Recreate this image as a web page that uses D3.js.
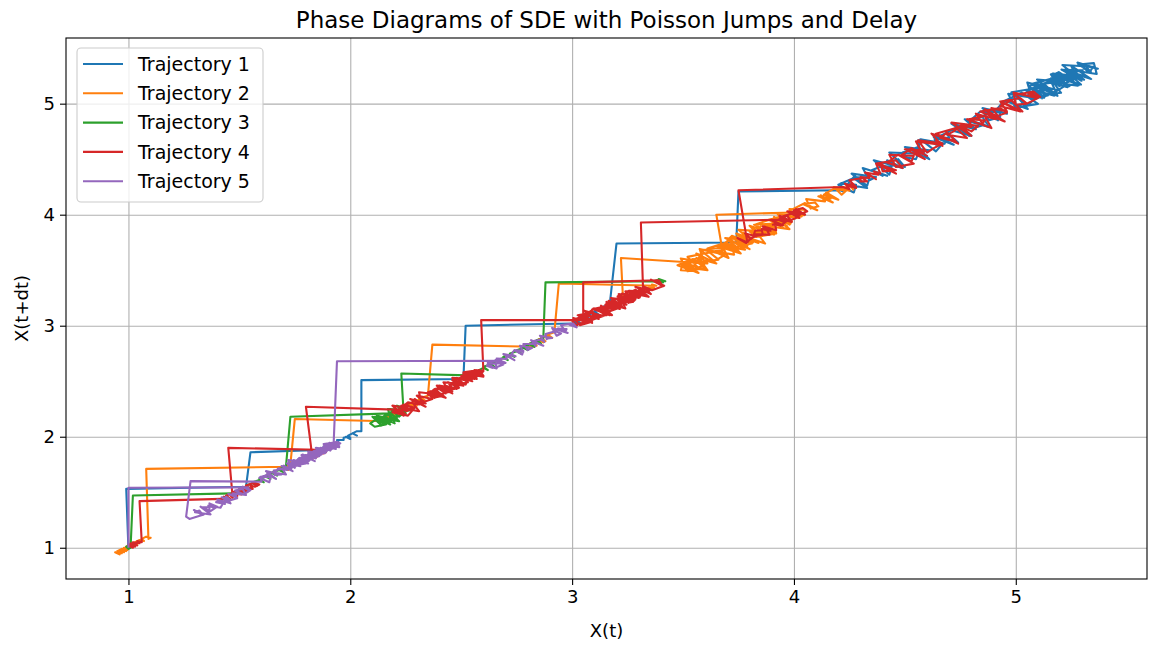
<!DOCTYPE html>
<html><head><meta charset="utf-8">
<script src="https://cdn.jsdelivr.net/npm/d3@7"></script>
<style>body{margin:0;background:#fff;} svg{display:block;} text{font-family:"DejaVu Sans", sans-serif;fill:#000;}</style>
</head><body><svg id="chart" width="1156" height="646"></svg>
<script>
// ---- data: X(t) time series (phase plot uses X(t) vs X(t+dt)) ----
const seriesNames = ["Trajectory 1", "Trajectory 2", "Trajectory 3", "Trajectory 4", "Trajectory 5"];
const seriesColors = ["#1f77b4", "#ff7f0e", "#2ca02c", "#d62728", "#9467bd"];

const traj1 = [1.00, 0.99, 1.53, 1.55,
  1.86, 1.88, 1.87, 1.87, 1.89, 1.88, 1.91, 1.91, 1.91, 1.91, 1.92, 1.94, 1.93, 1.94, 1.95, 1.94, 1.97, 1.97, 1.97, 1.99,
  2.00, 1.98, 2.00, 1.99, 2.01, 2.03, 2.01, 2.03, 2.05, 2.05, 2.05,
  2.51, 2.52,
  3.00, 3.02, 3.01, 3.04, 3.02, 3.05, 3.07, 3.05, 3.08, 3.06, 3.09, 3.11, 3.09, 3.12, 3.10, 3.13, 3.15, 3.13, 3.16, 3.14,
  3.17, 3.19, 3.17, 3.20,
  3.74, 3.75,
  4.21, 4.22, 4.21, 4.28, 4.27, 4.20, 4.27, 4.33, 4.24, 4.27, 4.34, 4.33, 4.26, 4.37, 4.34, 4.31, 4.42, 4.35, 4.40, 4.35,
  4.40, 4.44, 4.43, 4.36, 4.49, 4.42, 4.49, 4.42, 4.47, 4.50, 4.43, 4.56, 4.55, 4.50, 4.52, 4.49, 4.56, 4.61, 4.50, 4.61,
  4.58, 4.57, 4.56, 4.67, 4.64, 4.57, 4.68, 4.64, 4.63, 4.72, 4.63, 4.70, 4.69, 4.74, 4.65, 4.70, 4.75, 4.80, 4.71, 4.76,
  4.79, 4.71, 4.82, 4.77, 4.86, 4.81, 4.78, 4.85, 4.88, 4.79, 4.84, 4.93, 4.88, 4.85, 4.93, 4.92, 4.85, 4.96, 4.91, 4.94, 5.01,
  5.054, 4.952, 5.026, 5.100, 4.998, 4.966, 5.088, 5.050, 4.980, 5.102, 5.144, 5.074, 5.052, 5.190, 5.120, 5.056, 5.162,
  5.188, 5.070, 5.176, 5.234, 5.148, 5.190, 5.280, 5.162, 5.194, 5.284, 5.166, 5.272, 5.250, 5.340, 5.222, 5.296, 5.210,
  5.348, 5.332, 5.278, 5.370, 5.314, 5.340,
  5.282, 5.352, 5.365, 5.268, 5.296, 5.206, 5.308, 5.250, 5.224, 5.294, 5.172, 5.242, 5.158, 5.228, 5.170, 5.096, 5.166,
  5.204, 5.098, 5.072, 5.132, 5.090, 5.128, 5.054, 5.060,
  5.118, 5.048, 5.116, 5.174, 5.072, 5.130, 5.172, 5.096, 5.218, 5.196, 5.158, 5.264, 5.220, 5.182, 5.272, 5.234, 5.308,
  5.216, 5.306, 5.300];

const traj2 = [1.00, 0.98, 0.99, 0.97, 0.98, 0.96, 0.97, 0.95, 0.96, 0.94, 0.96, 0.95, 0.97, 0.99, 0.98, 1.00, 0.99, 1.01,
  1.03, 1.02, 1.04, 1.03, 1.05, 1.07, 1.06, 1.08, 1.10, 1.09, 1.08,
  1.71, 1.73, 1.72, 1.70, 1.72, 1.74, 1.73, 1.75,
  2.16, 2.14, 2.16, 2.18, 2.17, 2.19, 2.21, 2.19, 2.22, 2.20, 2.23, 2.25, 2.23, 2.26, 2.24, 2.27, 2.29, 2.27, 2.30, 2.28,
  2.31, 2.33, 2.31, 2.34, 2.32, 2.35, 2.37,
  2.83, 2.81, 2.84, 2.82, 2.85, 2.87, 2.85, 2.88, 2.86, 2.89, 2.91, 2.89, 2.92, 2.94,
  3.38, 3.36, 3.37, 3.34, 3.36, 3.33, 3.34, 3.31, 3.33, 3.30, 3.31, 3.28, 3.30, 3.27, 3.28, 3.25, 3.26, 3.23, 3.22,
  3.61, 3.56, 3.65, 3.56, 3.61, 3.50, 3.57, 3.61, 3.50, 3.53, 3.56, 3.49, 3.50,
  3.570, 3.475, 3.545, 3.600, 3.520, 3.490, 3.605, 3.570, 3.520, 3.620, 3.660, 3.595, 3.575, 3.690, 3.640, 3.580, 3.680,
  3.705, 3.610, 3.695, 3.750, 3.670, 3.710, 3.780, 3.685, 3.715, 3.800, 3.690, 3.790, 3.770, 3.840, 3.745, 3.815, 3.750,
  3.865, 3.850, 3.800, 3.900, 3.835, 3.860, 3.915, 3.850, 3.830, 3.915, 3.970, 3.895, 3.950, 3.885, 3.955, 3.950,
  3.98, 3.91, 3.98, 3.87, 3.90, 3.91, 3.82, 3.91, 3.92, 3.83, 3.80, 3.85, 3.82, 3.87, 3.74, 3.83, 3.76, 3.79, 3.72, 3.81,
  3.74, 3.71, 3.76, 3.65, 3.72, 3.73, 3.64, 3.67, 3.68, 3.65,
  4.00, 4.02, 3.97, 3.99, 3.94, 3.96, 3.92, 3.95, 3.93,
  3.985, 3.920, 3.975, 3.925, 4.010, 3.980, 4.035, 3.985, 3.980, 4.050, 4.045, 3.995, 4.050, 4.105, 4.040, 4.095, 4.110,
  4.075, 4.055, 4.140, 4.120, 4.175, 4.110, 4.165, 4.145, 4.200, 4.135, 4.180, 4.235, 4.215, 4.180, 4.250, 4.215, 4.240,
  4.250, 4.27, 4.22];

const traj3 = [1.00, 1.01, 1.00, 0.99, 1.01, 1.02,
  1.47, 1.49, 1.48, 1.50, 1.52, 1.50, 1.53, 1.55, 1.53, 1.56, 1.58, 1.56, 1.59, 1.61, 1.59, 1.62, 1.64, 1.62, 1.65, 1.67,
  1.65, 1.68, 1.70, 1.68, 1.71, 1.73,
  2.18, 2.21, 2.17, 2.14, 2.18, 2.11, 2.18, 2.16, 2.11, 2.09, 2.12, 2.16, 2.11, 2.15, 2.14, 2.10, 2.18, 2.13, 2.15, 2.18,
  2.20, 2.12, 2.19, 2.15, 2.18, 2.22, 2.14, 2.17, 2.21, 2.24, 2.20, 2.18, 2.17, 2.25, 2.24, 2.22, 2.18, 2.25, 2.21, 2.28,
  2.24, 2.23,
  2.57, 2.55, 2.57, 2.59, 2.58, 2.60, 2.62, 2.60, 2.63, 2.65, 2.63, 2.66, 2.68, 2.66, 2.69, 2.71, 2.69, 2.72, 2.74, 2.72,
  2.75, 2.77, 2.75, 2.78, 2.80, 2.78, 2.81, 2.83, 2.81, 2.84, 2.86, 2.84, 2.87, 2.88,
  3.39, 3.40, 3.38, 3.41, 3.39, 3.42, 3.40, 3.41];

const traj4 = [1.00, 1.02, 1.00, 1.03, 1.01, 1.04, 1.02, 1.05, 1.04, 1.06, 1.05,
  1.42, 1.44, 1.43, 1.46, 1.44, 1.47, 1.49, 1.47, 1.50, 1.52, 1.50, 1.53, 1.55, 1.53, 1.56, 1.58, 1.56, 1.59, 1.57, 1.55,
  1.56, 1.53, 1.54, 1.51, 1.53, 1.50, 1.51, 1.48, 1.49, 1.46, 1.47, 1.45,
  1.90, 1.88, 1.89, 1.86, 1.88, 1.85, 1.86, 1.83, 1.85, 1.82, 1.83, 1.80,
  2.27, 2.24, 2.29, 2.26, 2.19, 2.22, 2.25, 2.20, 2.24, 2.19, 2.28, 2.25, 2.23, 2.28, 2.31, 2.23, 2.26, 2.31, 2.29, 2.34,
  2.27, 2.34, 2.30, 2.37, 2.34, 2.32, 2.31, 2.40, 2.38, 2.35, 2.38, 2.43, 2.35, 2.40, 2.43, 2.39, 2.46, 2.39, 2.46, 2.44,
  2.49, 2.44, 2.42, 2.49, 2.48, 2.46, 2.53, 2.52, 2.47, 2.51, 2.54, 2.51, 2.57, 2.54, 2.51, 2.58, 2.60, 2.55, 2.58, 2.60,
  2.59, 2.57, 2.60, 2.54, 2.56, 2.52, 2.55, 2.50, 2.53, 2.49, 2.47, 2.51, 2.46, 2.48, 2.43, 2.46, 2.41, 2.44, 2.40, 2.38,
  2.42, 2.37, 2.35, 2.39, 2.36, 2.41, 2.38, 2.43, 2.45, 2.40, 2.46, 2.44, 2.49, 2.46, 2.51, 2.48, 2.53, 2.50, 2.55, 2.57,
  2.52, 2.58, 2.56, 2.60, 2.59, 3.05, 3.05,
  3.390, 3.410, 3.355, 3.415, 3.360, 3.320, 3.355, 3.285, 3.350, 3.320, 3.295, 3.345, 3.260, 3.295, 3.280, 3.225, 3.290,
  3.265, 3.210, 3.275, 3.215, 3.220, 3.240, 3.155, 3.205, 3.165, 3.225, 3.170, 3.130, 3.180, 3.095, 3.155, 3.130, 3.150,
  3.095, 3.055, 3.135, 3.090, 3.050, 3.085, 3.090, 3.035, 3.005, 3.070, 3.030, 3.020,
  3.000, 3.045, 3.085, 3.035, 3.060, 3.090, 3.025, 3.095, 3.120, 3.060, 3.100, 3.155, 3.095, 3.090, 3.145, 3.170, 3.095,
  3.150, 3.175, 3.155, 3.215, 3.150, 3.190, 3.220, 3.185, 3.225, 3.175, 3.250, 3.230, 3.210, 3.285, 3.265, 3.245, 3.270,
  3.240, 3.310, 3.305, 3.255, 3.315, 3.310,
  3.285, 3.325, 3.270, 3.300, 3.250, 3.285, 3.235, 3.265, 3.220, 3.200, 3.245, 3.190, 3.215, 3.170, 3.205, 3.160, 3.150,
  3.190, 3.165, 3.215, 3.180, 3.230, 3.255, 3.205, 3.265, 3.240, 3.290, 3.255, 3.305, 3.280, 3.320, 3.310,
  3.930, 3.955, 3.935, 3.990, 3.940, 3.980, 4.005, 4.020, 3.985, 4.010, 4.050, 4.000, 4.040,
  4.060, 4.030, 4.005, 4.025, 3.970, 4.030, 4.005, 3.965, 3.940, 3.970, 3.990, 3.935, 3.965, 3.940, 3.900, 3.950, 3.905,
  3.910, 3.915, 3.920, 3.860, 3.895, 3.855, 3.870, 3.890, 3.820, 3.825, 3.855, 3.860, 3.820, 3.805, 3.780, 3.830, 3.805,
  3.790, 3.750, 3.785, 3.745, 3.790, 3.750,
  4.22, 4.25, 4.23, 4.28, 4.24, 4.26, 4.28, 4.25, 4.31, 4.33, 4.30, 4.30, 4.34, 4.33, 4.37, 4.32, 4.38, 4.36, 4.39, 4.37,
  4.46, 4.40, 4.39, 4.46, 4.37, 4.46, 4.49, 4.42, 4.47, 4.54, 4.46, 4.43, 4.54, 4.53, 4.48, 4.53, 4.60, 4.53, 4.59, 4.50,
  4.59, 4.58, 4.55, 4.66, 4.63, 4.60, 4.56, 4.67, 4.64, 4.67, 4.62, 4.73, 4.66, 4.69, 4.74, 4.64, 4.73, 4.78, 4.69, 4.72,
  4.75, 4.80, 4.71, 4.83, 4.80, 4.75, 4.80, 4.79, 4.86, 4.89, 4.78, 4.86, 4.85, 4.82, 4.91, 4.86, 4.95, 4.84, 4.93, 4.96,
  4.92, 4.89, 4.96, 4.93, 5.02, 4.93, 4.98, 5.03, 4.93, 5.02, 5.05, 5.00, 4.99, 5.10, 5.05, 5.00, 5.08, 5.11, 5.06, 5.09, 5.10];

const traj5 = [1.00, 1.00,
  1.540, 1.545, 1.515, 1.550, 1.520, 1.480, 1.515, 1.530, 1.475, 1.490, 1.450, 1.485, 1.470, 1.490, 1.445, 1.420, 1.455,
  1.440, 1.460, 1.400, 1.435, 1.395, 1.410, 1.430, 1.415, 1.360, 1.380, 1.365, 1.400, 1.370, 1.330, 1.365, 1.365, 1.325,
  1.370, 1.300, 1.320, 1.335, 1.295, 1.340, 1.300, 1.275, 1.260, 1.280,
  1.600, 1.595, 1.640, 1.635, 1.590, 1.630, 1.660, 1.625, 1.665, 1.620, 1.690, 1.660, 1.655, 1.695, 1.710, 1.660, 1.675,
  1.715, 1.700, 1.740, 1.690, 1.735, 1.715, 1.760, 1.740, 1.735, 1.720, 1.790, 1.775, 1.755, 1.770, 1.810, 1.760, 1.790,
  1.815, 1.785, 1.840, 1.780, 1.835, 1.830, 1.860, 1.825, 1.810, 1.865, 1.860, 1.845, 1.900, 1.885, 1.850, 1.880, 1.905,
  1.885, 1.930, 1.910, 1.880, 1.935, 1.950, 1.915, 1.940, 1.955, 1.940,
  1.925, 1.950, 1.905, 1.920, 1.935, 1.890, 1.910, 1.875, 1.900, 1.885, 1.850, 1.880, 1.860, 1.835, 1.870, 1.840, 1.820,
  1.845, 1.805, 1.830, 1.810, 1.780, 1.815, 1.790, 1.765, 1.800, 1.760, 1.745, 1.775, 1.735, 1.750, 1.720,
  1.755, 1.735, 1.770, 1.745, 1.790, 1.760, 1.780, 1.815, 1.785, 1.800, 1.835, 1.810, 1.845, 1.820, 1.860, 1.840, 1.875,
  1.850, 1.890, 1.865, 1.900, 1.880, 1.915, 1.895, 1.930, 1.905, 1.945, 1.925, 1.940,
  2.680, 2.685, 2.655, 2.690, 2.650, 2.620, 2.655, 2.660, 2.615, 2.640, 2.620, 2.665, 2.660, 2.700, 2.665, 2.660, 2.705,
  2.700, 2.740, 2.690, 2.745, 2.725, 2.740, 2.780, 2.775, 2.740, 2.780, 2.765, 2.820, 2.800, 2.780, 2.835, 2.835, 2.815,
  2.870, 2.820, 2.860, 2.875, 2.855, 2.910, 2.890, 2.885, 2.880, 2.925, 2.950, 2.930, 2.910, 2.980, 2.935, 2.975, 2.970,
  2.950, 3.005, 3.020, 2.985, 3.010];

const xTickValues = [1, 2, 3, 4, 5];
const yTickValues = [1, 2, 3, 4, 5];
const titleText = "Phase Diagrams of SDE with Poisson Jumps and Delay";
const xLabelText = "X(t)";
const yLabelText = "X(t+dt)";

// ---- drawing ----
const trajectories = [traj1, traj2, traj3, traj4, traj5];
const svg = d3.select("#chart");
const frame = {left: 66, top: 38, right: 1147, bottom: 579};

const allVals = trajectories.flat();
const [lo, hi] = d3.extent(allVals);
const pad = (hi - lo) * 0.05;
const x = d3.scaleLinear().domain([lo - pad, hi + pad]).range([frame.left, frame.right]);
const y = d3.scaleLinear().domain([lo - pad, hi + pad]).range([frame.bottom, frame.top]);

const pw = frame.right - frame.left, ph = frame.bottom - frame.top;

// grid
svg.append("g").attr("transform", `translate(0,${frame.bottom})`)
  .call(d3.axisBottom(x).tickValues(xTickValues).tickSize(-ph).tickFormat(""))
  .call(g => g.select(".domain").remove())
  .call(g => g.selectAll("line").attr("stroke", "#b0b0b0").attr("stroke-width", 1.1));
svg.append("g").attr("transform", `translate(${frame.left},0)`)
  .call(d3.axisLeft(y).tickValues(yTickValues).tickSize(-pw).tickFormat(""))
  .call(g => g.select(".domain").remove())
  .call(g => g.selectAll("line").attr("stroke", "#b0b0b0").attr("stroke-width", 1.1));

// trajectories
const line = d3.line().x(d => x(d[0])).y(d => y(d[1]));
svg.append("defs").append("clipPath").attr("id", "clip")
  .append("rect").attr("x", frame.left).attr("y", frame.top).attr("width", pw).attr("height", ph);
const plotG = svg.append("g").attr("clip-path", "url(#clip)");
trajectories.forEach((s, i) => {
  plotG.append("path")
    .datum(d3.pairs(s))
    .attr("d", line)
    .attr("fill", "none")
    .attr("stroke", seriesColors[i])
    .attr("stroke-width", 2.1)
    .attr("stroke-linejoin", "round");
});

// frame
svg.append("rect").attr("x", frame.left).attr("y", frame.top).attr("width", pw).attr("height", ph)
  .attr("fill", "none").attr("stroke", "#000").attr("stroke-width", 1.1);

// axes
const xAxisG = svg.append("g").attr("transform", `translate(0,${frame.bottom})`)
  .call(d3.axisBottom(x).tickValues(xTickValues).tickSize(6).tickPadding(5).tickFormat(d3.format("d")));
const yAxisG = svg.append("g").attr("transform", `translate(${frame.left},0)`)
  .call(d3.axisLeft(y).tickValues(yTickValues).tickSize(6).tickPadding(5).tickFormat(d3.format("d")));
[xAxisG, yAxisG].forEach(g => {
  g.select(".domain").remove();
  g.selectAll("line").attr("stroke", "#000").attr("stroke-width", 1.1);
  g.selectAll("text").attr("font-size", 18).attr("font-family", "DejaVu Sans").attr("fill", "#000");
});

// labels
svg.append("text").attr("x", (frame.left + frame.right) / 2).attr("y", 637)
  .attr("text-anchor", "middle").attr("font-size", 18).text(xLabelText);
svg.append("text").attr("transform", `translate(28,${(frame.top + frame.bottom) / 2}) rotate(-90)`)
  .attr("text-anchor", "middle").attr("font-size", 18).text(yLabelText);
svg.append("text").attr("x", (frame.left + frame.right) / 2).attr("y", 28)
  .attr("text-anchor", "middle").attr("font-size", 23).text(titleText);

// legend
const lg = svg.append("g");
lg.append("rect").attr("x", 77).attr("y", 48).attr("width", 186).attr("height", 154)
  .attr("rx", 4).attr("fill", "#fff").attr("fill-opacity", 0.8).attr("stroke", "#cccccc").attr("stroke-width", 1.1);
seriesNames.forEach((name, i) => {
  const cy = 64 + i * 29.3;
  lg.append("line").attr("x1", 83).attr("x2", 123).attr("y1", cy).attr("y2", cy)
    .attr("stroke", seriesColors[i]).attr("stroke-width", 2.1);
  lg.append("text").attr("x", 138).attr("y", cy).attr("dy", "0.36em")
    .attr("font-size", 19).text(name);
});
</script></body></html>
